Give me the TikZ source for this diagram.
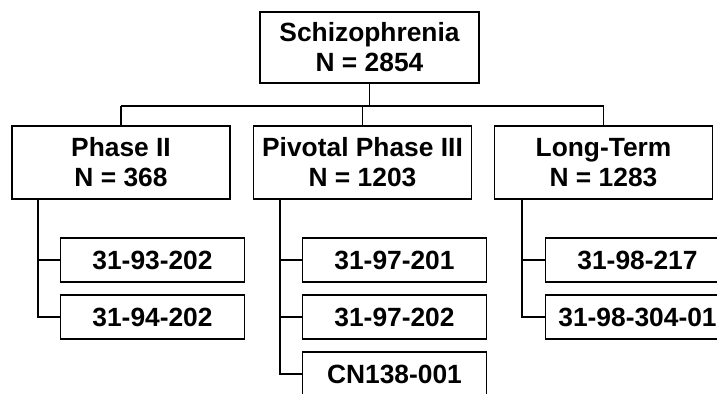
\documentclass[tikz,border=0pt]{standalone}
\usepackage{fontspec}
\setmainfont{Liberation Sans}
\usepackage{tikz}

\begin{document}
\begin{tikzpicture}[x=0.02cm, y=-0.02cm, line width=1pt,
    groupbox/.style={draw, align=center, minimum width=4.36cm, minimum height=1.46cm,
      inner sep=1pt, font=\fontsize{15}{17}\selectfont\bfseries},
    studybox/.style={draw, minimum width=3.68cm, minimum height=0.88cm,
      inner sep=1pt, font=\fontsize{15}{17}\selectfont\bfseries}]
  % Page frame (the scan cuts the last boxes)
  \clip (0,0) rectangle (717,393);
  \fill[white] (0,0) rectangle (717,393);

  % Top box
  \node[groupbox, minimum width=4.38cm, minimum height=1.42cm] (root) at (369.5,47.5) {Schizophrenia\\N = 2854};

  % Groups
  \node[groupbox] (ph2) at (121,162.5) {Phase II\\N = 368};
  \node[groupbox] (ph3) at (362.5,162.5) {Pivotal Phase III\\N = 1203};
  \node[groupbox] (lt)  at (603.5,162.5) {Long-Term\\N = 1283};

  % Bus between root and groups
  \coordinate (bus) at (369.5,106);
  \draw (root.south) -- (bus);
  \draw (ph2.north |- bus) -- (lt.north |- bus);
  \foreach \g in {ph2,ph3,lt}
    \draw (\g.north) -- (\g.north |- bus);

  % Studies of Phase II
  \node[studybox] (s93) at (152.5,260) {31-93-202};
  \node[studybox] (s94) at (152.5,317) {31-94-202};
  \coordinate (ph2trunk) at (38,199);
  \draw (ph2trunk) |- (s93.west);
  \draw (ph2trunk) |- (s94.west);

  % Studies of Pivotal Phase III
  \node[studybox] (s971) at (394.5,260) {31-97-201};
  \node[studybox] (s972) at (394.5,317) {31-97-202};
  \node[studybox] (cn)   at (394.5,374) {CN138-001};
  \coordinate (ph3trunk) at (280,199);
  \draw (ph3trunk) |- (s971.west);
  \draw (ph3trunk) |- (s972.west);
  \draw (ph3trunk) |- (cn.west);

  % Studies of Long-Term
  \node[studybox] (s217) at (637.5,260) {31-98-217};
  \node[studybox] (s304) at (637.5,317) {31-98-304-01};
  \coordinate (lttrunk) at (522,199);
  \draw (lttrunk) |- (s217.west);
  \draw (lttrunk) |- (s304.west);
\end{tikzpicture}
\end{document}
